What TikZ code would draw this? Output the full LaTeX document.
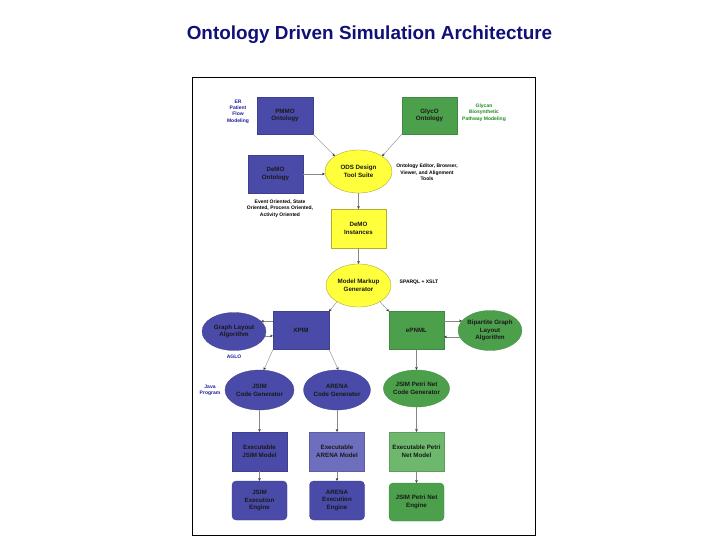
\documentclass[tikz,border=0pt]{standalone}
\usepackage{fontspec}
\setmainfont{Liberation Sans}
\usetikzlibrary{arrows.meta,shapes.geometric}
\definecolor{bluef}{RGB}{74,74,168}
\definecolor{lbluef}{RGB}{110,110,190}
\definecolor{greenf}{RGB}{76,160,76}
\definecolor{lgreenf}{RGB}{110,184,110}
\definecolor{yellowf}{RGB}{255,255,60}
\definecolor{navyt}{RGB}{16,16,120}
\definecolor{bluet}{RGB}{30,30,160}
\definecolor{greent}{RGB}{30,140,30}
\definecolor{arrc}{RGB}{135,135,135}
\definecolor{tipc}{RGB}{60,60,60}
\begin{document}
\begin{tikzpicture}[x=1pt,y=-1pt,
  lbl/.style={font=\fontsize{6.2}{7.8}\selectfont\bfseries, align=center, text=black!90},
  sq/.style={rectangle, inner sep=0pt, outer sep=0pt, minimum width=55pt, minimum height=38pt, lbl},
  ell/.style={ellipse, inner sep=0pt, outer sep=0pt, lbl},
  bluebox/.style={sq, fill=bluef, draw=bluef!85!black, line width=0.3pt},
  lbluebox/.style={sq, fill=lbluef, draw=lbluef!85!black, line width=0.3pt},
  greenbox/.style={sq, fill=greenf, draw=greenf!85!black, line width=0.3pt},
  lgreenbox/.style={sq, fill=lgreenf, draw=lgreenf!85!black, line width=0.3pt},
  yellowbox/.style={sq, fill=yellowf, draw=yellowf!70!black, line width=0.3pt},
  blueell/.style={ell, fill=bluef, draw=bluef!85!black, line width=0.3pt},
  greenell/.style={ell, fill=greenf, draw=greenf!85!black, line width=0.3pt},
  yellowell/.style={ell, fill=yellowf, draw=yellowf!60!black, line width=0.3pt},
  note/.style={font=\fontsize{5}{6.4}\selectfont\bfseries, align=center, inner sep=0pt},
  arr/.style={draw=arrc, line width=0.4pt, -{Stealth[length=3pt,width=2.6pt,color=tipc]}}
]
\useasboundingbox (0,0) rectangle (720,540);
\fill[white] (0,0) rectangle (720,540);

% title
\node[font=\fontsize{18.9}{22}\selectfont\bfseries, text=navyt] (title) at (369.5,35) {Ontology Driven Simulation Architecture};

% frame
\draw[line width=0.9pt] (192,77) rectangle (535,535);

% nodes
\node[bluebox, minimum width=56pt, minimum height=37pt] (pmmo) at (285,115.5) {PMMO\\Ontology};
\node[greenbox, minimum height=37pt] (glyco) at (429.5,115.5) {GlycO\\Ontology};
\node[bluebox] (demo) at (275.5,174) {DeMO\\Ontology};
\node[yellowell, minimum width=67pt, minimum height=43pt] (ods) at (358.5,171.5) {ODS Design\\Tool Suite};
\node[yellowbox, minimum height=39pt] (inst) at (358.5,228.5) {DeMO\\Instances};
\node[yellowell, minimum width=65pt, minimum height=43pt] (mmg) at (358.5,285.5) {Model Markup\\Generator};
\node[bluebox, minimum width=56pt] (xpim) at (301,330.5) {XPIM};
\node[blueell, minimum width=64pt, minimum height=38pt] (gla) at (234,331.5) {Graph Layout\\Algorithm};
\node[greenbox] (epnml) at (416.5,330.5) {ePNML};
\node[greenell, minimum width=62pt, minimum height=40pt] (bgla) at (490,330.5) {Bipartite Graph\\Layout\\Algorithm};
\node[blueell, minimum width=69pt, minimum height=40pt] (jcg) at (259.5,390) {JSIM\\Code Generator};
\node[blueell, minimum width=67pt, minimum height=40pt] (acg) at (337,390) {ARENA\\Code Generator};
\node[greenell, minimum width=65pt, minimum height=37pt] (pcg) at (416.5,388.5) {JSIM Petri Net\\Code Generator};
\node[bluebox, minimum height=39pt] (ejm) at (259.5,451.5) {Executable\\JSIM Model};
\node[lbluebox, minimum height=39pt] (eam) at (337,451.5) {Executable\\ARENA Model};
\node[lgreenbox, minimum height=39pt] (epm) at (416.5,451.5) {Executable Petri\\Net Model};
\node[bluebox, minimum height=39pt, rounded corners=4pt] (jee) at (259.5,500.5) {JSIM\\Execution\\Engine};
\node[bluebox, minimum height=39pt, rounded corners=4pt] (aee) at (337,500.5) {ARENA\\Execution\\Engine};
\node[greenbox, minimum height=38pt, rounded corners=4pt] (pne) at (416.5,502) {JSIM Petri Net\\Engine};

% annotations
\node[note, text=bluet, font=\fontsize{5}{6.4}\selectfont\bfseries] (er) at (238,111.5) {ER\\Patient\\Flow\\Modeling};
\node[note, text=greent] (glycan) at (484,112.5) {Glycan\\Biosynthetic\\Pathway Modeling};
\node[note, text=black] (tools) at (427,172.5) {Ontology Editor, Browser,\\Viewer, and Alignment\\Tools};
\node[note, text=black] (views) at (280,208.5) {Event Oriented, State\\Oriented, Process Oriented,\\Activity Oriented};
\node[note, text=black] (sparql) at (419,282) {SPARQL + XSLT};
\node[note, text=bluet] (aglo) at (234,357) {AGLO};
\node[note, text=bluet] (java) at (210,390.5) {Java\\Program};

% connectors
\draw[arr] (pmmo.south east) -- (ods.147);
\draw[arr] (glyco.south west) -- (ods.33);
\draw[arr] (demo.east) -- (ods.west |- demo.east);
\draw[arr] (ods.south) -- (inst.north);
\draw[arr] (inst.south) -- (mmg.north);
\draw[arr] (mmg.217) -- (xpim.north east);
\draw[arr] (mmg.-37) -- (epnml.north west);
\draw[arr] (xpim.west |- gla.21.5) -- (gla.21.5);
\draw[arr] (gla.-8) -- (xpim.west |- gla.-8);
\draw[arr] (epnml.east |- bgla.161) -- (bgla.161);
\draw[arr] (bgla.192.5) -- (epnml.east |- bgla.192.5);
\draw[arr] (xpim.south west) -- (jcg.78);
\draw[arr] (xpim.south east) -- (acg.86);
\draw[arr] (epnml.south) -- (pcg.north);
\draw[arr] (jcg.south) -- (ejm.north);
\draw[arr] (acg.south) -- (eam.north);
\draw[arr] (pcg.south) -- (epm.north);
\draw[arr] (ejm.south) -- (jee.north);
\draw[arr] (eam.south) -- (aee.north);
\draw[arr] (epm.south) -- (pne.north);
\end{tikzpicture}
\end{document}
